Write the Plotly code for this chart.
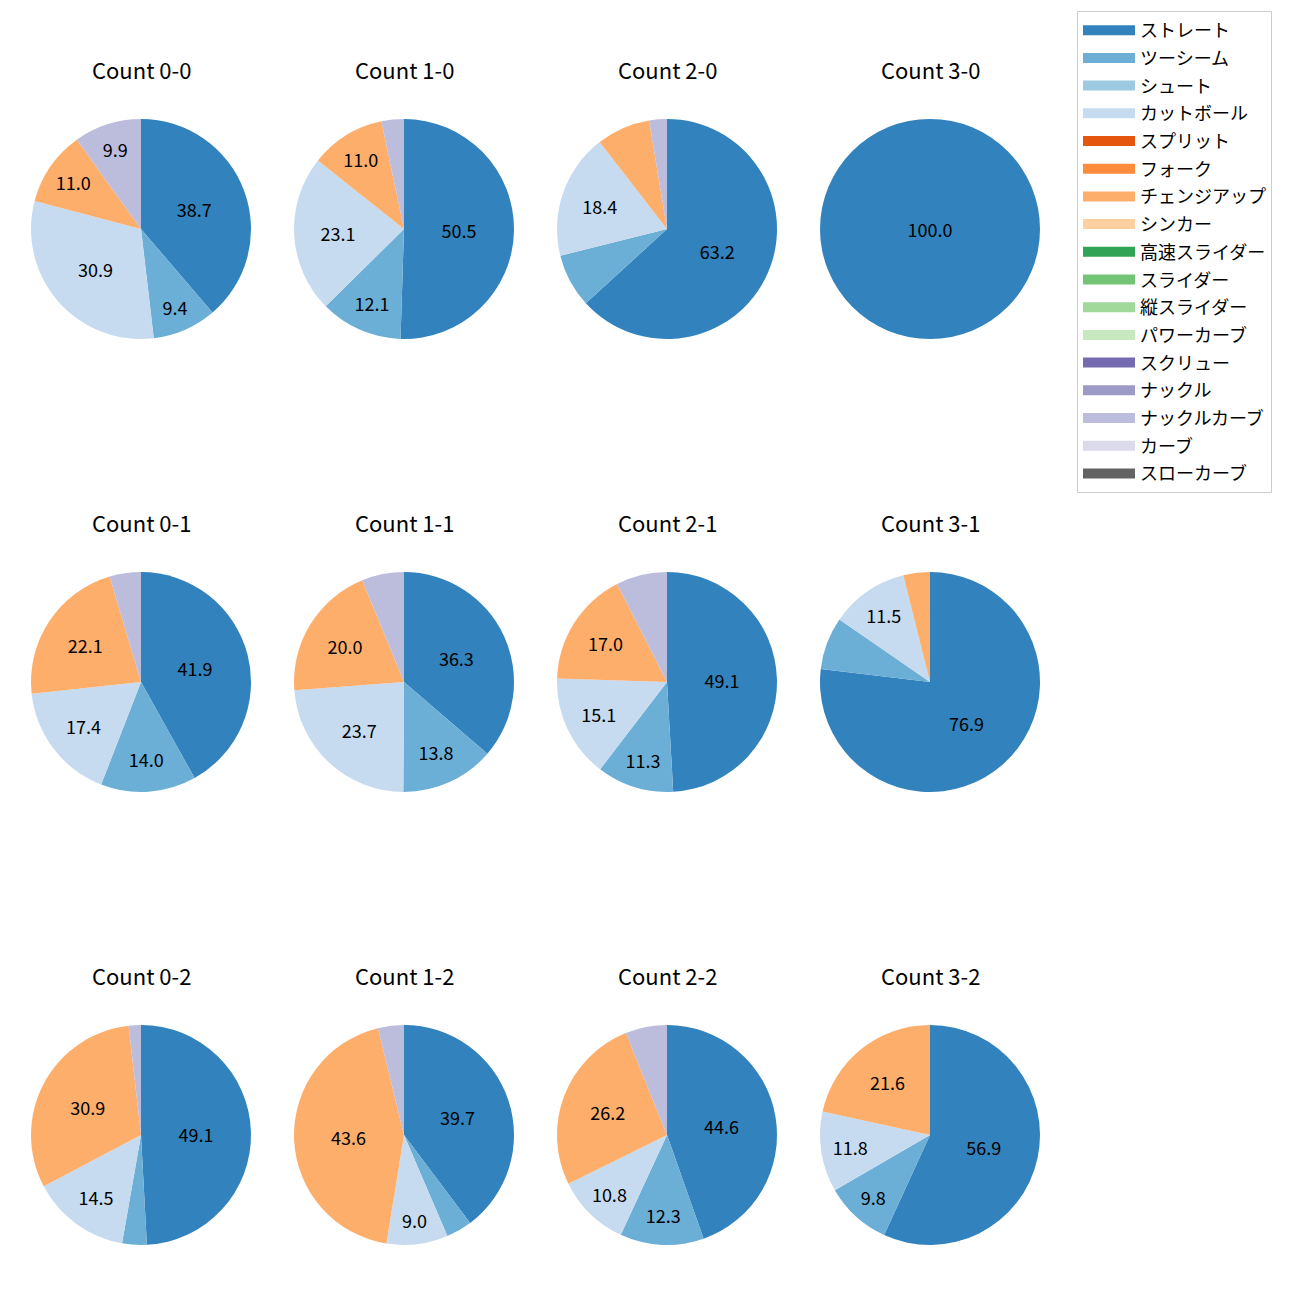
import plotly.graph_objects as go

pitch_types = ["ストレート", "ツーシーム", "シュート", "カットボール", "スプリット", "フォーク",
               "チェンジアップ", "シンカー", "高速スライダー", "スライダー", "縦スライダー",
               "パワーカーブ", "スクリュー", "ナックル", "ナックルカーブ", "カーブ", "スローカーブ"]
pitch_colors = ["#3182bd", "#6baed6", "#9ecae1", "#c6dbef", "#e6550d", "#fd8d3c",
                "#fdae6b", "#fdd0a2", "#31a354", "#74c476", "#a1d99b", "#c7e9c0",
                "#756bb1", "#9e9ac8", "#bcbddc", "#dadaeb", "#636363"]

counts = ["0-0", "1-0", "2-0", "3-0", "0-1", "1-1", "2-1", "3-1", "0-2", "1-2", "2-2", "3-2"]

straight = [38.7, 50.5, 63.2, 100.0, 41.9, 36.3, 49.1, 76.9, 49.1, 39.7, 44.6, 56.9]
twoseam = [9.4, 12.1, 7.9, 0, 14.0, 13.8, 11.3, 7.7, 3.6, 3.8, 12.3, 9.8]
cutter = [30.9, 23.1, 18.4, 0, 17.4, 23.7, 15.1, 11.5, 14.5, 9.0, 10.8, 11.8]
changeup = [11.0, 11.0, 7.9, 0, 22.1, 20.0, 17.0, 3.9, 30.9, 43.6, 26.2, 21.6]
knucklecurve = [9.9, 3.3, 2.6, 0, 4.6, 6.2, 7.5, 0, 1.8, 3.8, 6.1, 0]

series = {
    "ストレート": straight,
    "ツーシーム": twoseam,
    "カットボール": cutter,
    "チェンジアップ": changeup,
    "ナックルカーブ": knucklecurve,
}
color_of = dict(zip(pitch_types, pitch_colors))

OFF = 8            # browser default body margin
FW = 1300 - 2 * OFF
col_cx = [141, 404, 667, 930]
row_cy = [229, 682, 1135]
R = 110
title_off = 160
FONT = "Noto Sans CJK JP"


def px_x(x):
    return (x - OFF) / FW


def px_y(y):
    return 1 - (y - OFF) / FW


fig = go.Figure()
annotations = []
for i, cnt in enumerate(counts):
    r, c = divmod(i, 4)
    cx, cy = col_cx[c], row_cy[r]
    labels, vals, cols = [], [], []
    for p in pitch_types:
        if p in series and series[p][i] > 0:
            labels.append(p)
            vals.append(series[p][i])
            cols.append(color_of[p])
    texts = [f"{v:.1f}" if v >= 8 else "" for v in vals]
    fig.add_trace(go.Pie(
        labels=labels, values=vals, text=texts, textinfo="text",
        textposition="inside", insidetextorientation="horizontal",
        sort=False, direction="clockwise", rotation=0,
        marker=dict(colors=cols, line=dict(width=0)),
        textfont=dict(family=FONT, size=18, color="black"),
        showlegend=False, hoverinfo="label+text",
        domain=dict(x=[px_x(cx - R), px_x(cx + R)], y=[px_y(cy + R), px_y(cy - R)]),
    ))
    annotations.append(dict(
        text=f"Count {cnt}", x=px_x(cx), y=px_y(cy - title_off), xref="paper", yref="paper",
        showarrow=False, xanchor="center", yanchor="middle",
        font=dict(family=FONT, size=22, color="black"),
    ))

for p, col in zip(pitch_types, pitch_colors):
    fig.add_trace(go.Scatter(
        x=[None], y=[None], mode="lines", name=p, legendgroup=p,
        line=dict(color=col, width=10), showlegend=True, hoverinfo="skip",
    ))

fig.update_layout(
    width=FW, height=FW, margin=dict(l=0, r=0, t=0, b=0),
    paper_bgcolor="white", plot_bgcolor="white",
    xaxis=dict(visible=False), yaxis=dict(visible=False),
    annotations=annotations,
    uniformtext=dict(minsize=18, mode="show"),
    legend=dict(
        x=px_x(1077), y=px_y(11), xanchor="left", yanchor="top",
        font=dict(family=FONT, size=18, color="black"),
        bgcolor="white", bordercolor="#cccccc", borderwidth=1,
        tracegroupgap=1.3, traceorder="grouped", itemwidth=52,
    ),
)

fig.write_html("out.html")
